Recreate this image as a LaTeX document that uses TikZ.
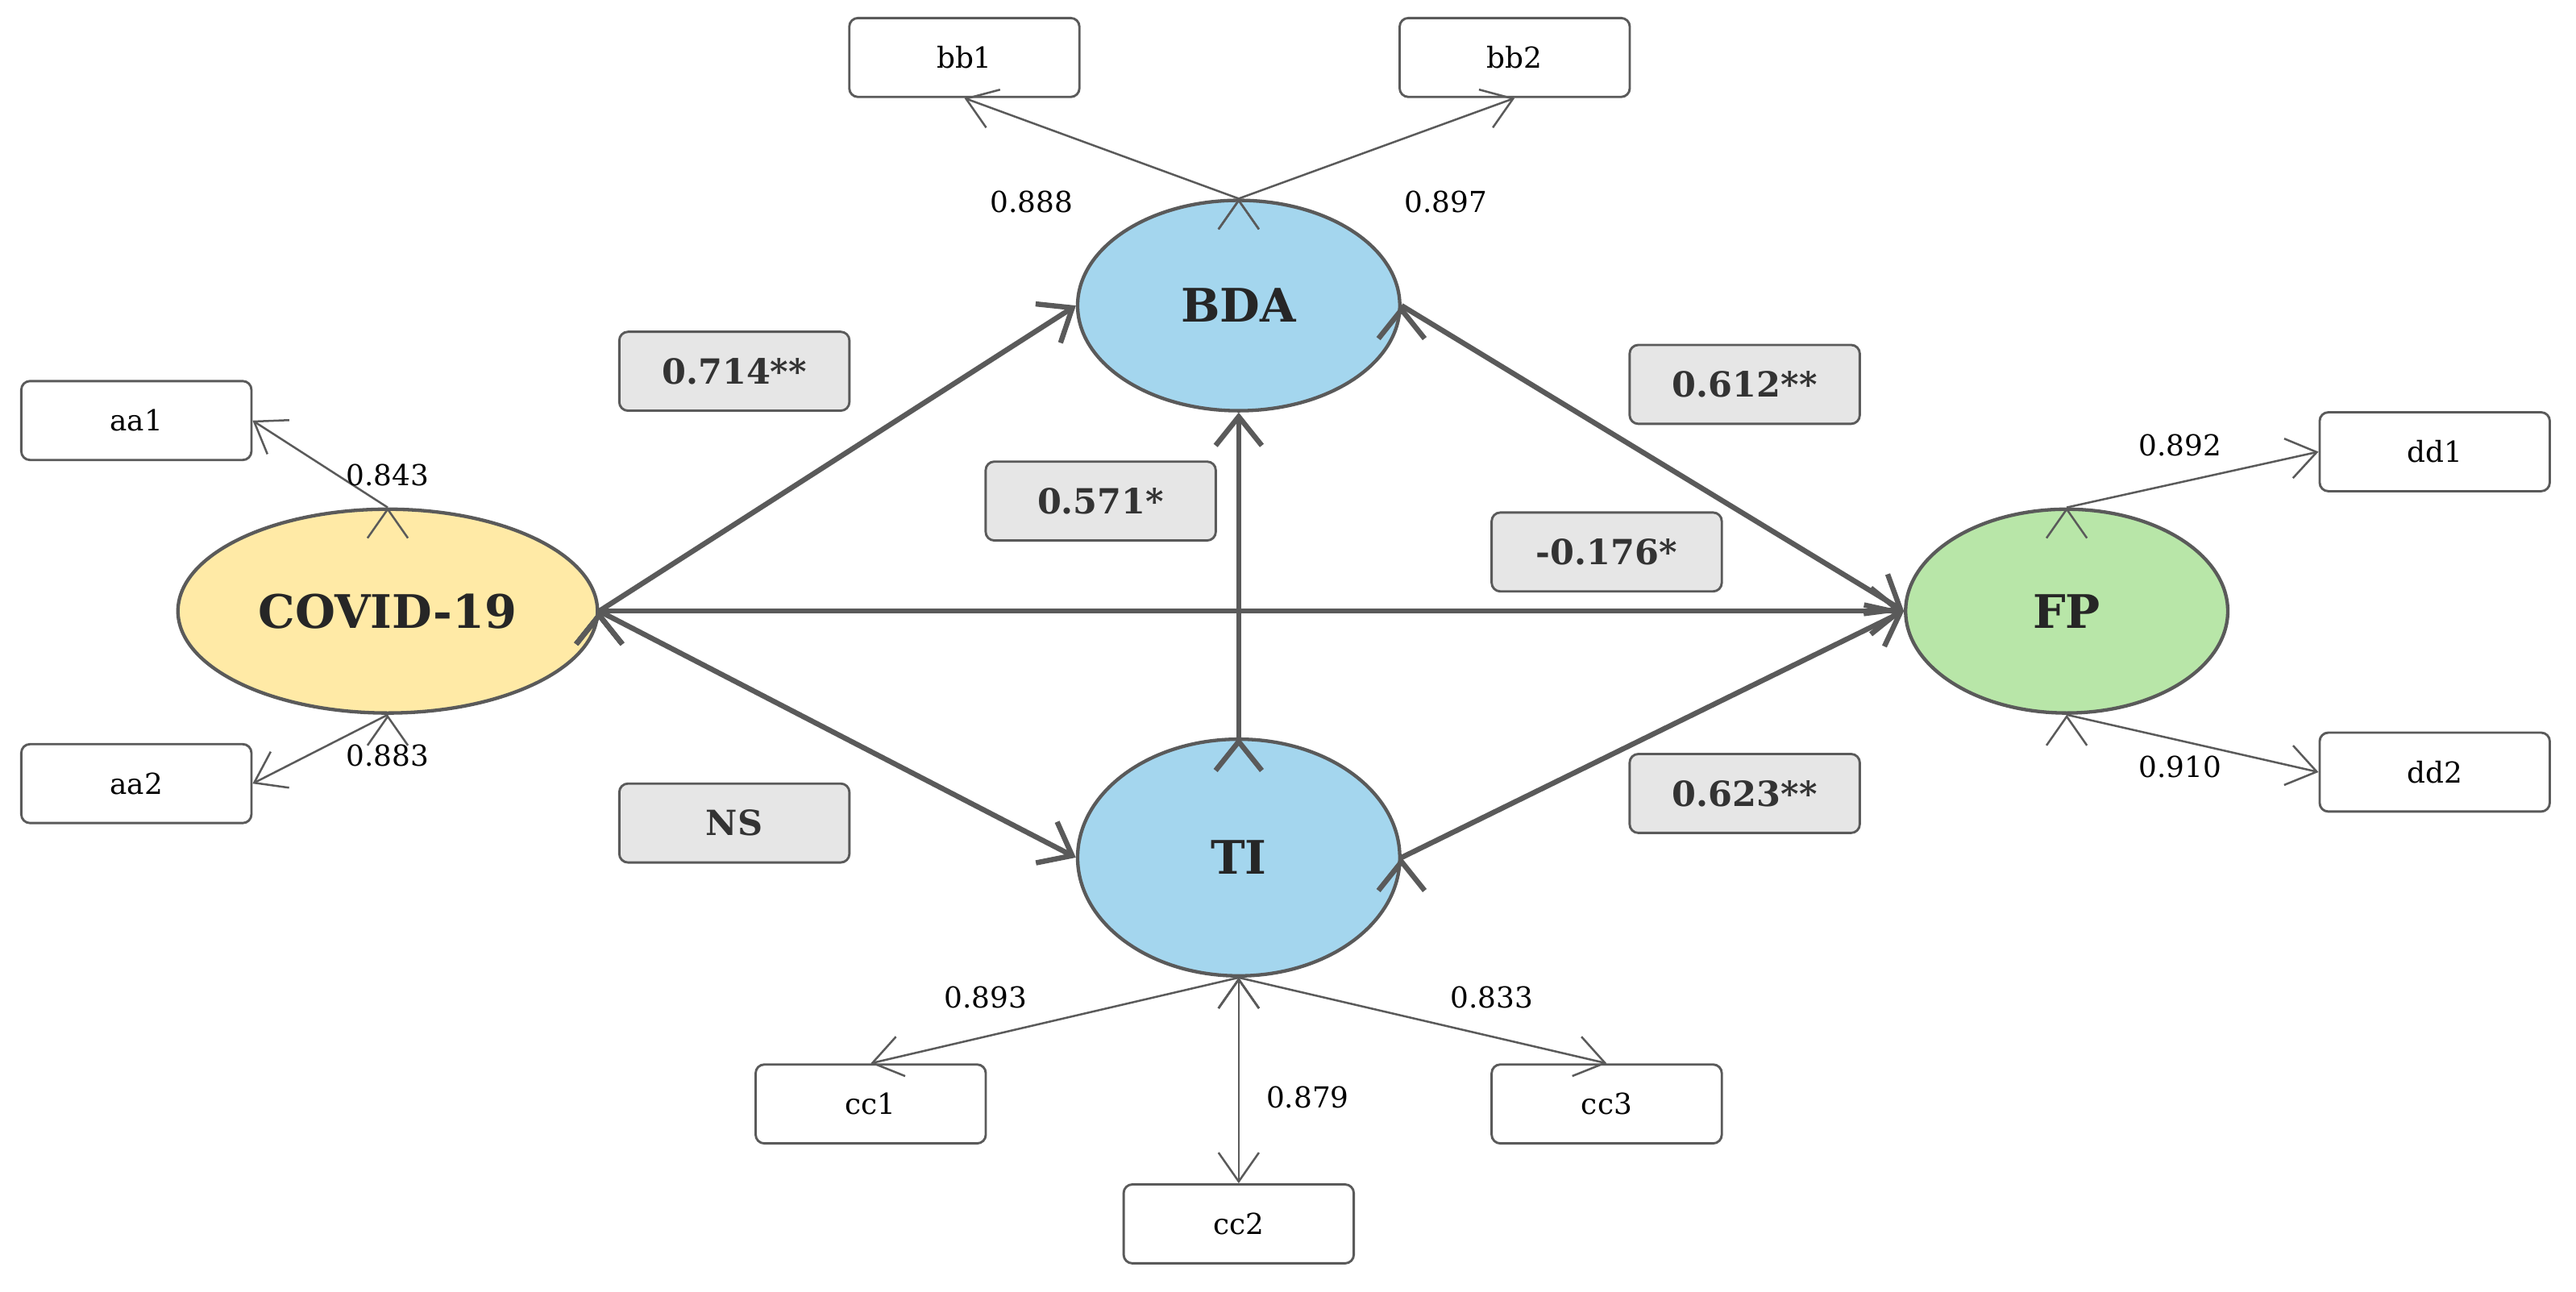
\documentclass[tikz,border=0pt]{standalone}
\usepackage{fontspec}
\setmainfont{DejaVu Serif}
\usetikzlibrary{arrows.meta,shapes.geometric}
\definecolor{lvblue}{RGB}{164,214,238}
\definecolor{lvyellow}{RGB}{255,234,166}
\definecolor{lvgreen}{RGB}{184,230,168}
\definecolor{pathgray}{RGB}{230,230,230}
\definecolor{linegray}{RGB}{90,90,90}
\tikzset{latent/.style = {ellipse,draw=linegray,line width=0.6pt,minimum width=1.96cm,font=\fontsize{8}{9}\selectfont\bfseries,text=black!85}}
\tikzset{item/.style = {rectangle,rounded corners=1.5pt,draw=linegray,line width=0.4pt,minimum width=1.4cm,minimum height=0.48cm,font=\fontsize{5}{6}\selectfont}}
\tikzset{coef/.style = {item,fill=pathgray,font=\fontsize{6}{7}\selectfont\bfseries,text=black!80}}
\tikzset{load/.style = {draw=linegray,line width=0.35pt,-{Straight Barb[length=5pt,width=7pt]}}}
\tikzset{edge/.style = {draw=linegray,line width=0.9pt,-{Straight Barb[length=5pt,width=8pt]}}}
\tikzset{lbl/.style = {font=\fontsize{5}{6}\selectfont,inner sep=0pt}}

\begin{document}
\begin{tikzpicture}[x=0.01cm,y=-0.01cm]
    \useasboundingbox (0,0) rectangle (1568,786);
    \begin{scope}
        \node [latent,fill=lvyellow,minimum height=1.24cm] (covid) at (236,372) {COVID-19};
        \node [latent,fill=lvblue,minimum height=1.28cm] (bda) at (754,186) {BDA};
        \node [latent,fill=lvblue,minimum height=1.44cm] (ti) at (754,522) {TI};
        \node [latent,fill=lvgreen,minimum height=1.24cm] (fp) at (1258,372) {FP};
    \end{scope}
    \begin{scope}
        \node [item] (aa1) at (83,256) {aa1};
        \node [item] (aa2) at (83,477) {aa2};
        \node [item] (bb1) at (587,35) {bb1};
        \node [item] (bb2) at (922,35) {bb2};
        \node [item] (cc1) at (530,672) {cc1};
        \node [item] (cc2) at (754,745) {cc2};
        \node [item] (cc3) at (978,672) {cc3};
        \node [item] (dd1) at (1482,275) {dd1};
        \node [item] (dd2) at (1482,470) {dd2};
    \end{scope}
    \begin{scope}
        \node [coef] (p1) at (447,226) {0.714**};
        \node [coef] (p2) at (670,305) {0.571*};
        \node [coef] (p3) at (447,501) {NS};
        \node [coef] (p4) at (1062,234) {0.612**};
        \node [coef] (p5) at (978,336) {-0.176*};
        \node [coef] (p6) at (1062,483) {0.623**};
    \end{scope}
    % loadings
    \path [load] (covid.north) edge (aa1.east);
    \path [load] (covid.south) edge (aa2.east);
    \path [load] (bda.north) edge (bb1.south);
    \path [load] (bda.north) edge (bb2.south);
    \path [load] (ti.south) edge (cc1.north);
    \path [load] (ti.south) edge (cc2.north);
    \path [load] (ti.south) edge (cc3.north);
    \path [load] (fp.north) edge (dd1.west);
    \path [load] (fp.south) edge (dd2.west);
    \node [lbl] (l1) at (236,289) {0.843};
    \node [lbl] (l2) at (236,460) {0.883};
    \node [lbl] (l3) at (628,123) {0.888};
    \node [lbl] (l4) at (880,123) {0.897};
    \node [lbl] (l5) at (600,607) {0.893};
    \node [lbl] (l6) at (796,668) {0.879};
    \node [lbl] (l7) at (908,607) {0.833};
    \node [lbl] (l8) at (1327,271) {0.892};
    \node [lbl] (l9) at (1327,467) {0.910};
    % structural paths
    \path [edge] (covid.east) edge (bda.west);
    \path [edge] (covid.east) edge (fp.west);
    \path [edge] (covid.east) edge (ti.west);
    \path [edge] (ti.north) edge (bda.south);
    \path [edge] (bda.east) edge (fp.west);
    \path [edge] (ti.east) edge (fp.west);
\end{tikzpicture}
\end{document}
